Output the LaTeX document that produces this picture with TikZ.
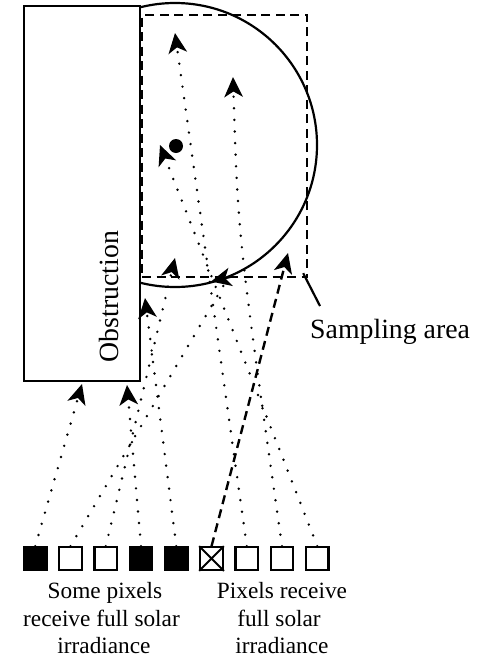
\documentclass[tikz,border=0pt]{standalone}
\usepackage{fontspec}
\setmainfont{Liberation Serif}
\usetikzlibrary{arrows.meta,calc}
\begin{document}
\begin{tikzpicture}[x=1pt,y=-1pt,
  solidline/.style={line width=2.2pt},
  ray/.style={line width=2.7pt, line cap=round, dash pattern=on 0pt off 11.6pt},
  dashray/.style={line width=2.4pt, dash pattern=on 9pt off 5.5pt},
  rayend/.style={-{Stealth[length=20pt,width=18.5pt,inset=5.5pt]}},
  pix/.style={draw, line width=2.2pt, minimum size=22.5pt, inner sep=0pt},
  lit/.style={pix, fill=white},
  shaded/.style={pix, fill=black},
  txt/.style={font=\fontsize{23.3pt}{28pt}\selectfont, inner sep=0pt, anchor=base},
  bigtxt/.style={font=\fontsize{27.8pt}{33pt}\selectfont, inner sep=0pt},
]
\useasboundingbox (0,0) rectangle (481,659);

% sky hemisphere seen from the sensor
\draw[solidline] (175,145) circle[radius=142pt];

% sampling area
\node[draw, line width=2.4pt, dash pattern=on 9pt off 5.5pt, inner sep=0pt,
      minimum width=165pt, minimum height=262pt] (samp) at (224.5,146) {};

% obstruction block
\node[draw, fill=white, line width=2.2pt, inner sep=0pt,
      minimum width=116pt, minimum height=375pt] (obs) at (82,193.5) {};
\node[bigtxt, rotate=90, anchor=base] (obstxt) at (118,296.5) {Obstruction};

% sensor pixels
\foreach \i/\s in {1/shaded,2/lit,3/lit,4/shaded,5/shaded,6/lit,7/lit,8/lit,9/lit}
  \node[\s] (p\i) at ({35.3+35.25*(\i-1)},558.5) {};
\draw[line width=2pt] (p6.north west) -- (p6.south east)
                      (p6.north east) -- (p6.south west);

% ray end points
\coordinate (a1) at (82,384);
\coordinate (a2) at (127,385);
\coordinate (a3) at (145,298);
\coordinate (a4) at (175,258);
\coordinate (a5) at (225,283);
\coordinate (a6) at (288,253);
\coordinate (a7) at (175,33);
\coordinate (a8) at (233,77);
\coordinate (a9) at (160,145);
\coordinate (arctip) at (211,281.5);
\coordinate (arcback) at ($(arctip)+(19.5,-4.6)$);

% sun
\node[circle, fill=black, inner sep=0pt, minimum size=14pt] (sun) at (176,146) {};

% traced rays
\draw[ray, rayend] (p1.north) -- (a1);
\draw[ray] (p2.north) -- (a5);
\draw[solidline, rayend] (arcback) -- (arctip);
\draw[ray, rayend] (p3.north) -- (a4);
\draw[ray, rayend] (p4.north) -- (a2);
\draw[ray, rayend] (p5.north) -- (a3);
\draw[dashray, rayend] (p6.north) -- (a6);
\draw[ray, rayend] (p7.north) -- (a7);
\draw[ray, rayend] (p8.north) .. controls (238,237) .. (a8);
\draw[ray, rayend] (p9.north) -- (a9);

% sampling area label
\node[bigtxt, anchor=base west] (samptxt) at (310,338) {Sampling area};
\coordinate (lead) at (320,306);
\draw[solidline] ($(samp.south east)+(-5,-5)$) -- (lead);

% pixel captions
\node[txt] (l1) at (105,598.5) {Some pixels};
\node[txt] (l2) at (101.5,626) {receive full solar};
\node[txt] (l3) at (104,653.5) {irradiance};
\node[txt] (r1) at (282,598.5) {Pixels receive};
\node[txt] (r2) at (279,626) {full solar};
\node[txt] (r3) at (282,653.5) {irradiance};
\end{tikzpicture}
\end{document}
